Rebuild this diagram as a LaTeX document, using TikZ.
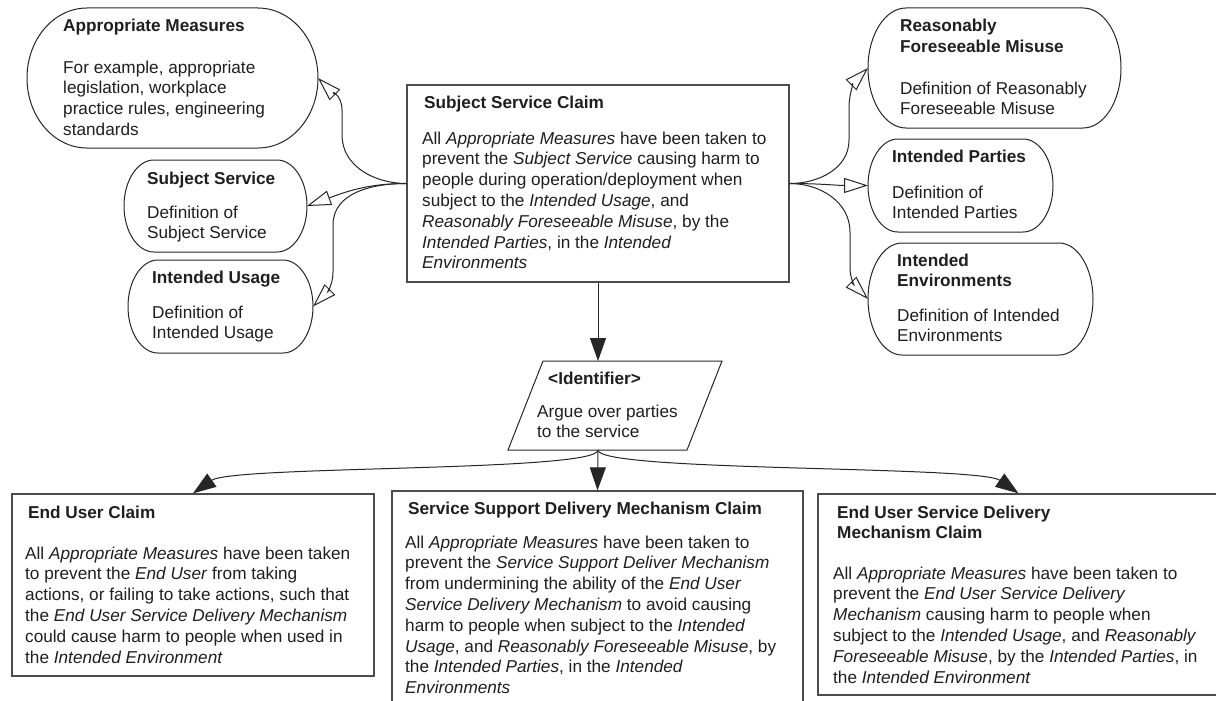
\documentclass[tikz,border=0pt]{standalone}
\usepackage{fontspec}
\setmainfont{Liberation Sans}
\usetikzlibrary{arrows.meta}

% context outline: straight top and bottom, half-ellipse ends
\newcommand\ctxshape[3]{%
  \draw[ctx] ([xshift=#2]#1.north west) -- ([xshift=-#2]#1.north east)
    arc[start angle=90, end angle=-90, x radius=#2, y radius=#3]
    -- ([xshift=#2]#1.south west)
    arc[start angle=270, end angle=90, x radius=#2, y radius=#3] -- cycle;}

\begin{document}
\begin{tikzpicture}[x=1pt,y=1pt,
  ctx/.style={draw=black!85, line width=1pt},
  ctxnode/.style={inner sep=0pt, outer sep=0pt},
  claim/.style={draw=black!70, line width=1.3pt},
  ttl/.style={anchor=base west, inner sep=0pt, align=left, text=black!88,
    font=\bfseries\fontsize{17.2}{20.8}\selectfont},
  bdy/.style={anchor=base west, inner sep=0pt, align=left, text=black!88,
    font=\fontsize{17.2}{20.8}\selectfont},
  % a multi-line node sits on its last baseline: drop it by the lines above
  nl/.style={yshift=-#1*20.8pt},
  link/.style={line width=1pt, draw=black!85},
  openarr/.style={-{Triangle[open, length=24pt, width=15pt]}},
  solidarr/.style={-{Triangle[length=23pt, width=16pt]}},
]
\useasboundingbox (0,0) rectangle (1216,-701);
\fill[white] (0,0) rectangle (1216,-701);
\clip (0,0) rectangle (1216,-701);

% context nodes, left
\node[ctxnode, minimum width=291pt, minimum height=140pt] (am) at (172.5,-78) {};
\node[ctxnode, minimum width=183pt, minimum height=92pt] (ss) at (215.5,-206) {};
\node[ctxnode, minimum width=185pt, minimum height=93pt] (iu) at (220.5,-306.5) {};
% context nodes, right
\node[ctxnode, minimum width=253pt, minimum height=120pt] (rfm) at (994.5,-68) {};
\node[ctxnode, minimum width=185pt, minimum height=93pt] (ip) at (960.5,-185.5) {};
\node[ctxnode, minimum width=225pt, minimum height=112pt] (ie) at (980.5,-299) {};

\ctxshape{am}{60pt}{70pt}
\ctxshape{ss}{30pt}{46pt}
\ctxshape{iu}{30pt}{46.5pt}
\ctxshape{rfm}{38pt}{60pt}
\ctxshape{ip}{30pt}{46.5pt}
\ctxshape{ie}{34pt}{56pt}

% claims
\node[claim, minimum width=382pt, minimum height=197pt] (ssc) at (598,-183.5) {};
\node[claim, minimum width=362pt, minimum height=182pt] (eu) at (193,-585) {};
\node[claim, minimum width=411pt, minimum height=240pt] (ssdm) at (597.5,-611) {};
\node[claim, minimum width=401pt, minimum height=201pt] (eusdm) at (1018.5,-594.5) {};

% strategy
\draw[ctx] (543,-361) -- (722,-361) -- (687,-450) -- (508,-450) -- cycle;
\coordinate (idtop) at (598,-361);
\coordinate (idbot) at (598,-450);

% texts
\node[ttl] (amT) at (63,-32) {Appropriate Measures};
\node[bdy, nl=3] (amB) at (63,-73) {For example, appropriate\\legislation, workplace\\practice rules, engineering\\standards};
\node[ttl] (ssT) at (147,-184) {Subject Service};
\node[bdy, nl=1] (ssB) at (147,-218) {Definition of\\Subject Service};
\node[ttl] (iuT) at (152,-283) {Intended Usage};
\node[bdy, nl=1] (iuB) at (152,-318) {Definition of\\Intended Usage};

\node[ttl, nl=1] (rfmT) at (900,-32) {Reasonably\\Foreseeable Misuse};
\node[bdy, nl=1] (rfmB) at (900,-94) {Definition of Reasonably\\Foreseeable Misuse};
\node[ttl] (ipT) at (892,-162) {Intended Parties};
\node[bdy, nl=1] (ipB) at (892,-198) {Definition of\\Intended Parties};
\node[ttl, nl=1] (ieT) at (897,-266) {Intended\\Environments};
\node[bdy, nl=1] (ieB) at (897,-321) {Definition of Intended\\Environments};

\node[ttl] (sscT) at (424,-109) {Subject Service Claim};
\node[bdy, nl=6] (sscB) at (422,-144) {All \textit{Appropriate Measures} have been taken to\\prevent the \textit{Subject Service} causing harm to\\people during operation/deployment when\\subject to the \textit{Intended Usage}, and\\\textit{Reasonably Foreseeable Misuse}, by the\\\textit{Intended Parties}, in the \textit{Intended}\\\textit{Environments}};

\node[ttl] (idT) at (548,-384) {<Identifier>};
\node[bdy, nl=1] (idB) at (537,-417) {Argue over parties\\to the service};

\node[ttl] (euT) at (28,-518) {End User Claim};
\node[bdy, nl=5] (euB) at (25,-559) {All \textit{Appropriate Measures} have been taken\\to prevent the \textit{End User} from taking\\actions, or failing to take actions, such that\\the \textit{End User Service Delivery Mechanism}\\could cause harm to people when used in\\the \textit{Intended Environment}};

\node[ttl] (ssdmT) at (408,-514) {Service Support Delivery Mechanism Claim};
\node[bdy, nl=7] (ssdmB) at (405,-548) {All \textit{Appropriate Measures} have been taken to\\prevent the \textit{Service Support Deliver Mechanism}\\from undermining the ability of the \textit{End User}\\\textit{Service Delivery Mechanism} to avoid causing\\harm to people when subject to the \textit{Intended}\\\textit{Usage}, and \textit{Reasonably Foreseeable Misuse}, by\\the \textit{Intended Parties}, in the \textit{Intended}\\\textit{Environments}};

\node[ttl, nl=1] (eusdmT) at (837,-518) {End User Service Delivery\\Mechanism Claim};
\node[bdy, nl=5] (eusdmB) at (833,-579) {All \textit{Appropriate Measures} have been taken to\\prevent the \textit{End User Service Delivery}\\\textit{Mechanism} causing harm to people when\\subject to the \textit{Intended Usage}, and \textit{Reasonably}\\\textit{Foreseeable Misuse}, by the \textit{Intended Parties}, in\\the \textit{Intended Environment}};

% context links, left
\draw[link, openarr] (ssc.west) to[out=180,in=-90] (342,-135) -- (342,-110) to[out=90,in=-45] (am.east);
\draw[link, openarr] (ssc.west) to[out=180,in=20] (ss.east);
\draw[link, openarr] (ssc.west) to[out=180,in=90] (333,-225) -- (333,-272) to[out=-90,in=45] (iu.east);
% context links, right
\draw[link, openarr] (ssc.east) to[out=0,in=-90] (849,-140) -- (849,-108) to[out=90,in=-135] (rfm.west);
\draw[link, openarr] (ssc.east) to[out=0,in=180] (ip.west);
\draw[link, openarr] (ssc.east) to[out=0,in=90] (850,-232) -- (850,-268) to[out=-90,in=135] (ie.west);

% support links
\draw[link, solidarr] (ssc.south) -- (idtop);
\draw[link, solidarr] (idbot) -- (ssdm.north);
\draw[link, solidarr] (idbot) .. controls +(0,-22) and +(40,28) .. (eu.north);
\draw[link, solidarr] (idbot) .. controls +(0,-22) and +(-40,28) .. (eusdm.north);
\end{tikzpicture}
\end{document}
